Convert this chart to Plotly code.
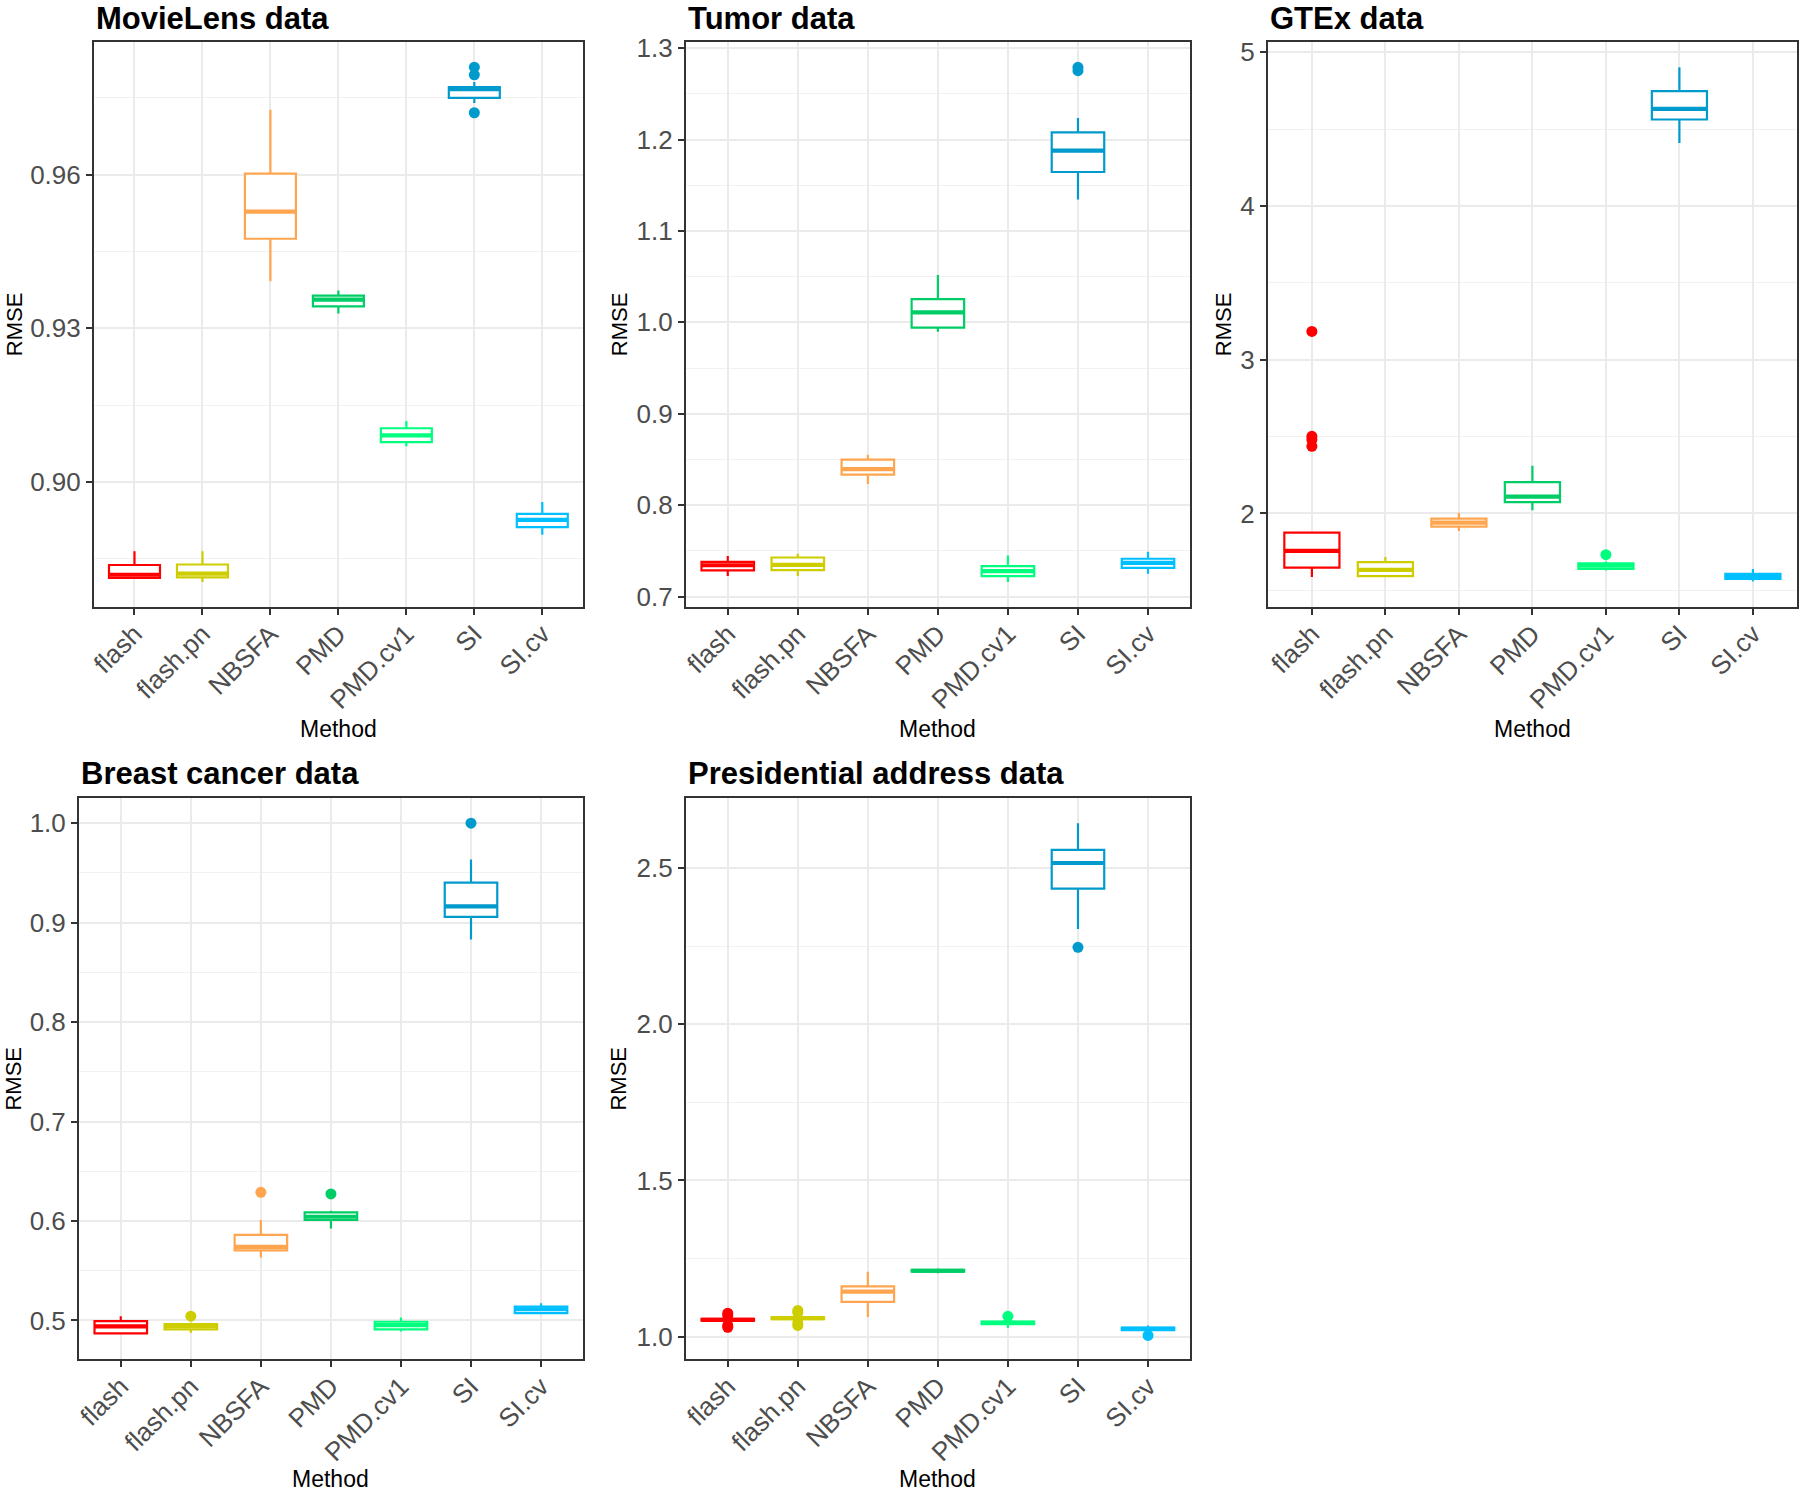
import plotly.graph_objects as go

W, H = 1800, 1496

methods = ["flash", "flash.pn", "NBSFA", "PMD", "PMD.cv1", "SI", "SI.cv"]
colors = ["#FF0000", "#CDCD00", "#FFA54F", "#00CD66", "#00FF7F", "#009ACD", "#00BFFF"]

# ---- MovieLens data ----
ml_lower = [0.8812, 0.8805, 0.9392, 0.9329, 0.9070, 0.9740, 0.8897]
ml_q1 = [0.8813, 0.8814, 0.9475, 0.9343, 0.9078, 0.9750, 0.8912]
ml_median = [0.8819, 0.8821, 0.9528, 0.9356, 0.9091, 0.9767, 0.8926]
ml_q3 = [0.8838, 0.8839, 0.9602, 0.9364, 0.9105, 0.9771, 0.8938]
ml_upper = [0.8865, 0.8865, 0.9727, 0.9374, 0.9119, 0.9781, 0.8961]
ml_out_method = ["SI", "SI", "SI"]
ml_out_value = [0.9810, 0.9795, 0.9721]

# ---- Tumor data ----
tu_lower = [0.7225, 0.7225, 0.8231, 0.9898, 0.7158, 1.1343, 0.7249]
tu_q1 = [0.7287, 0.7289, 0.8333, 0.9942, 0.7224, 1.1645, 0.7314]
tu_median = [0.7342, 0.7347, 0.8395, 1.0109, 0.7278, 1.1878, 0.7369]
tu_q3 = [0.7379, 0.7427, 0.8497, 1.0254, 0.7333, 1.2078, 0.7413]
tu_upper = [0.7444, 0.7467, 0.8551, 1.0517, 0.7449, 1.2235, 0.7489]
tu_out_method = ["SI", "SI"]
tu_out_value = [1.2791, 1.2754]

# ---- GTEx data ----
gt_lower = [1.587, 1.585, 1.886, 2.020, 1.628, 4.410, 1.557]
gt_q1 = [1.648, 1.592, 1.914, 2.074, 1.639, 4.563, 1.574]
gt_median = [1.757, 1.633, 1.940, 2.110, 1.661, 4.632, 1.592]
gt_q3 = [1.875, 1.683, 1.966, 2.204, 1.676, 4.747, 1.607]
gt_upper = [1.878, 1.717, 2.004, 2.311, 1.687, 4.903, 1.639]
gt_out_method = ["flash", "flash", "flash", "flash", "PMD.cv1"]
gt_out_value = [3.184, 2.502, 2.480, 2.437, 1.732]

# ---- Breast cancer data ----
bc_lower = [0.4870, 0.4877, 0.5634, 0.5926, 0.4890, 0.8832, 0.5073]
bc_q1 = [0.4870, 0.4910, 0.5704, 0.6010, 0.4910, 0.9058, 0.5073]
bc_median = [0.4940, 0.4943, 0.5740, 0.6043, 0.4953, 0.9163, 0.5113]
bc_q3 = [0.4993, 0.4963, 0.5861, 0.6086, 0.4987, 0.9402, 0.5140]
bc_upper = [0.5043, 0.4976, 0.6010, 0.6103, 0.5030, 0.9635, 0.5173]
bc_out_method = ["flash.pn", "NBSFA", "PMD", "SI"]
bc_out_value = [0.5043, 0.6289, 0.6272, 1.0000]

# ---- Presidential address data ----
pa_lower = [1.050, 1.055, 1.063, 1.203, 1.028, 2.305, 1.018]
pa_q1 = [1.051, 1.056, 1.111, 1.208, 1.040, 2.434, 1.021]
pa_median = [1.054, 1.059, 1.144, 1.211, 1.044, 2.516, 1.025]
pa_q3 = [1.057, 1.062, 1.161, 1.214, 1.048, 2.558, 1.029]
pa_upper = [1.059, 1.064, 1.2075, 1.218, 1.052, 2.643, 1.036]
pa_out_method = ["flash", "flash", "flash", "flash", "flash.pn", "flash.pn", "flash.pn", "flash.pn",
                 "PMD.cv1", "SI", "SI.cv"]
pa_out_value = [1.075, 1.068, 1.036, 1.030, 1.084, 1.077, 1.044, 1.036, 1.065, 2.246, 1.004]

titles = ["MovieLens data", "Tumor data", "GTEx data", "Breast cancer data", "Presidential address data"]

panels = [
    dict(lower=ml_lower, q1=ml_q1, med=ml_median, q3=ml_q3, upper=ml_upper,
         om=ml_out_method, ov=ml_out_value),
    dict(lower=tu_lower, q1=tu_q1, med=tu_median, q3=tu_q3, upper=tu_upper,
         om=tu_out_method, ov=tu_out_value),
    dict(lower=gt_lower, q1=gt_q1, med=gt_median, q3=gt_q3, upper=gt_upper,
         om=gt_out_method, ov=gt_out_value),
    dict(lower=bc_lower, q1=bc_q1, med=bc_median, q3=bc_q3, upper=bc_upper,
         om=bc_out_method, ov=bc_out_value),
    dict(lower=pa_lower, q1=pa_q1, med=pa_median, q3=pa_q3, upper=pa_upper,
         om=pa_out_method, ov=pa_out_value),
]

# layout (pixel boxes of plot panels: left, right, top, bottom)
boxes = [(88, 579, 34, 604), (682, 1188, 34, 604), (1266, 1797, 34, 604),
         (73, 579, 797, 1363), (682, 1188, 797, 1363)]
yranges = [[0.87565, 0.98597], [0.6888, 1.3071], [1.393, 5.069], [0.4611, 1.0253], [0.928, 2.7238]]
ydticks = [0.03, 0.1, 1, 0.1, 0.5]
ytick0 = [0.90, 0.7, 2, 0.5, 1.0]
yfmt = [".2f", ".1f", "d", ".1f", ".1f"]
rmse_x = [8, 615, 1221, 8, 615]


def px(x):
    return x / W


def py(y):
    return 1 - y / H


FONT = "Liberation Sans, Arial, Helvetica, sans-serif"
fig = go.Figure()
cmap = dict(zip(methods, colors))

for i, p in enumerate(panels):
    xa = "x" if i == 0 else f"x{i+1}"
    ya = "y" if i == 0 else f"y{i+1}"
    for j, m in enumerate(methods):
        c = colors[j]
        fig.add_trace(go.Box(
            x=[m], q1=[p["q1"][j]], median=[p["med"][j]], q3=[p["q3"][j]],
            lowerfence=[p["lower"][j]], upperfence=[p["upper"][j]],
            orientation="v", width=0.75, whiskerwidth=0, boxpoints=False,
            line=dict(color=c, width=2.2), fillcolor="white",
            xaxis=xa, yaxis=ya, showlegend=False, hoverinfo="skip"))
        # thicker median line (ggplot fatten)
        fig.add_trace(go.Box(
            x=[m], q1=[p["med"][j]], median=[p["med"][j]], q3=[p["med"][j]],
            lowerfence=[p["med"][j]], upperfence=[p["med"][j]],
            orientation="v", width=0.75, whiskerwidth=0, boxpoints=False,
            line=dict(color=c, width=4.2), fillcolor="rgba(0,0,0,0)",
            xaxis=xa, yaxis=ya, showlegend=False, hoverinfo="skip"))
    if p["om"]:
        fig.add_trace(go.Scatter(
            x=p["om"], y=p["ov"], mode="markers",
            marker=dict(color=[cmap[m] for m in p["om"]], size=11),
            xaxis=xa, yaxis=ya, showlegend=False, hoverinfo="skip"))

layout = dict(
    width=W, height=H, margin=dict(l=0, r=0, t=0, b=0),
    paper_bgcolor="white", plot_bgcolor="white", boxmode="overlay",
    font=dict(family=FONT), showlegend=False,
)
annotations = []
for i in range(5):
    l, r, t, b = boxes[i]
    xk = "xaxis" if i == 0 else f"xaxis{i+1}"
    yk = "yaxis" if i == 0 else f"yaxis{i+1}"
    ya = "y" if i == 0 else f"y{i+1}"
    xa = "x" if i == 0 else f"x{i+1}"
    layout[xk] = dict(
        domain=[px(l), px(r)], anchor=ya, type="category",
        categoryorder="array", categoryarray=methods, range=[-0.6, 6.6],
        tickangle=-45, tickfont=dict(size=26, color="#4D4D4D", family=FONT),
        ticklabelstandoff=-6,
        showgrid=True, gridcolor="#EBEBEB", gridwidth=1.6,
        showline=True, mirror=True, linecolor="#333333", linewidth=1.5,
        ticks="outside", ticklen=6, tickwidth=1.5, tickcolor="#333333",
        zeroline=False, fixedrange=True)
    layout[yk] = dict(
        domain=[py(b), py(t)], anchor=xa, range=yranges[i],
        tick0=ytick0[i], dtick=ydticks[i], tickformat=yfmt[i],
        tickfont=dict(size=26, color="#4D4D4D", family=FONT),
        showgrid=True, gridcolor="#EBEBEB", gridwidth=1.6,
        minor=dict(dtick=ydticks[i] / 2, tick0=ytick0[i], showgrid=True,
                   gridcolor="#F1F1F1", gridwidth=1),
        showline=True, mirror=True, linecolor="#333333", linewidth=1.5,
        ticks="outside", ticklen=6, tickwidth=1.5, tickcolor="#333333",
        zeroline=False, fixedrange=True)
    # title
    ty = 11 if i < 3 else 772
    annotations.append(dict(
        text=f"<b>{titles[i]}</b>", x=px(l), y=py(ty), xref="paper", yref="paper",
        xanchor="left", yanchor="middle", showarrow=False,
        font=dict(size=31, color="black", family=FONT)))
    # y axis title
    annotations.append(dict(
        text="RMSE", x=px(rmse_x[i]), y=py((t + b) / 2), xref="paper", yref="paper",
        xanchor="center", yanchor="middle", textangle=-90, showarrow=False,
        font=dict(size=22, color="black", family=FONT)))
    # x axis title
    my = 727 if i < 3 else 1484
    annotations.append(dict(
        text="Method", x=px((l + r) / 2), y=py(my), xref="paper", yref="paper",
        xanchor="center", yanchor="middle", showarrow=False,
        font=dict(size=23, color="black", family=FONT)))

layout["annotations"] = annotations
fig.update_layout(**layout)
fig.write_html(
    "out.html",
    config={"displayModeBar": False},
    post_script="document.body.style.margin='0';document.body.style.padding='0';"
                "document.body.style.overflow='hidden';",
)
